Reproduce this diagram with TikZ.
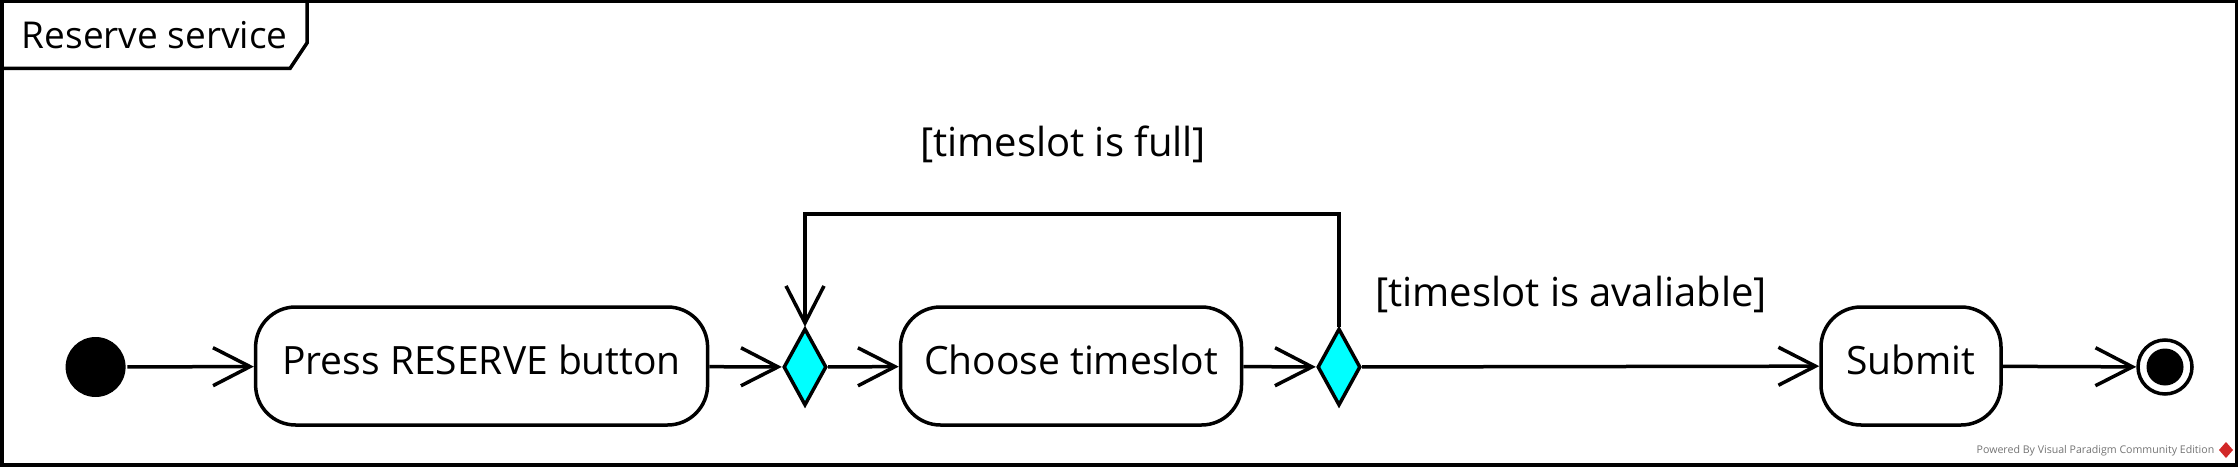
\documentclass[tikz,border=0pt]{standalone}
\usepackage{fontspec}
\setmainfont{Open Sans}
\usetikzlibrary{arrows.meta,shapes.geometric}
\definecolor{dcyan}{RGB}{0,255,255}
\definecolor{vpred}{RGB}{210,40,40}
\begin{document}
\begin{tikzpicture}[x=1pt,y=-1pt,
  line width=3.5pt,
  act/.style={draw, rounded corners=40pt, minimum height=118pt, inner sep=0pt, text height=29pt, text depth=13pt, font=\fontsize{39}{47}\selectfont},
  dec/.style={draw, diamond, fill=dcyan, minimum width=43pt, minimum height=77pt, inner sep=0pt},
  flow/.style={-{Straight Barb[length=37pt,width=38pt]}},
  lbl/.style={font=\fontsize{40}{48}\selectfont}
]
\useasboundingbox (0,0) rectangle (2238,468);
% frame
\draw (1.75,1.75) rectangle (2236.25,465);
\draw (1.75,68.5) -- (290,68.5) -- (307,43) -- (307,1.75);
\node[font=\fontsize{37}{44}\selectfont, anchor=west, inner sep=0pt] (title) at (20,35) {Reserve service};
% nodes
\node[circle, fill, minimum size=60pt, inner sep=0pt] (start) at (95.6,367) {};
\node[act, minimum width=452pt] (press) at (481.6,366) {Press RESERVE button};
\node[dec] (d1) at (805,367) {};
\node[act, minimum width=341pt] (choose) at (1071,366) {Choose timeslot};
\node[dec] (d2) at (1339,367) {};
\node[act, minimum width=180pt] (submit) at (1911,366) {Submit};
\node[circle, draw, minimum size=54pt, inner sep=0pt] (end) at (2165,367) {};
\node[circle, fill, minimum size=37pt, inner sep=0pt] (endin) at (end) {};
\coordinate (lt) at (0,214);
% labels
\node[lbl] (full) at (1063,144) {[timeslot is full]};
\node[lbl] (avail) at (1571,294) {[timeslot is avaliable]};
% edges
\draw[flow] (start) -- (press);
\draw[flow] (press) -- (d1);
\draw[flow] (d1) -- (choose);
\draw[flow] (choose) -- (d2);
\draw[flow] (d2) -- (submit);
\draw[flow] (submit) -- (end);
\draw[flow] (d2.north) -- (d2.north |- lt) -| (d1.north);
% footer
\node[font=\fontsize{10.6}{12}\selectfont, text=black!55, anchor=east, inner sep=0pt] (pw) at (2216,451) {Powered By Visual Paradigm Community Edition};
\fill[vpred] (2226,442) -- (2233,450) -- (2226,458) -- (2219,450) -- cycle;
\end{tikzpicture}
\end{document}
